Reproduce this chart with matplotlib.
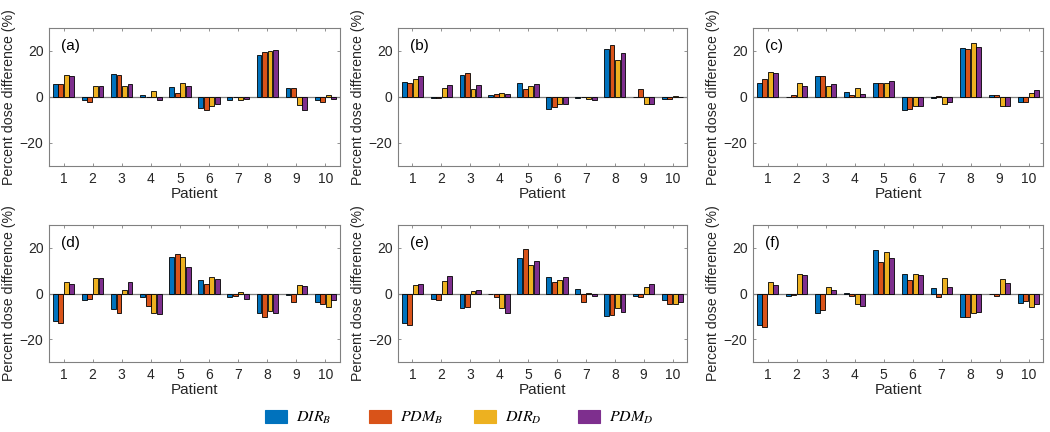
import matplotlib
matplotlib.use("Agg")
import matplotlib.pyplot as plt
import numpy as np
from matplotlib.patches import Rectangle

patients = [1, 2, 3, 4, 5, 6, 7, 8, 9, 10]
series_names = ["$DIR_B$", "$PDM_B$", "$DIR_D$", "$PDM_D$"]
colors = ["#0072BD", "#D95319", "#EDB120", "#7E2F8E"]
panel_labels = ["(a)", "(b)", "(c)", "(d)", "(e)", "(f)"]

# rows: DIR_B, PDM_B, DIR_D, PDM_D
panel_a = [
    [5.6, -1.2, 10.1, 0.9, 4.3, -4.8, -1.2, 18.3, 3.8, -1.4],
    [5.6, -2.0, 9.4, 0.1, 1.6, -5.5, -0.2, 19.4, 3.8, -2.0],
    [9.5, 4.9, 4.6, 2.8, 6.1, -3.8, -1.2, 20.0, -3.5, 0.9],
    [9.3, 4.6, 5.5, -1.4, 4.6, -3.0, -0.9, 20.6, -5.8, -0.9],
]
panel_b = [
    [6.4, -0.4, 9.7, 1.0, 6.2, -5.4, -0.3, 21.0, 0.2, -0.9],
    [5.9, -0.4, 10.3, 1.4, 3.3, -4.2, 0.0, 22.5, 3.3, -0.9],
    [7.7, 3.9, 3.6, 1.9, 4.8, -2.9, -1.0, 16.1, -2.9, 0.4],
    [9.1, 5.4, 5.4, 1.4, 5.5, -3.2, -1.2, 19.0, -3.2, 0.0],
]
panel_c = [
    [6.3, 0.0, 9.3, 2.2, 6.2, -5.6, -0.6, 21.5, 0.7, -2.1],
    [7.8, 1.0, 9.3, 1.0, 5.9, -5.3, 0.3, 20.9, 0.7, -2.1],
    [11.0, 5.9, 5.0, 4.1, 6.2, -3.8, -2.9, 23.5, -4.1, 1.6],
    [10.4, 5.0, 5.6, 1.3, 6.8, -4.1, -2.1, 21.8, -4.1, 3.1],
]
panel_d = [
    [-12.0, -3.0, -7.0, -1.7, 16.2, 6.1, -1.7, -8.7, -0.7, -3.6],
    [-13.0, -2.6, -8.4, -5.5, 17.4, 4.1, -1.3, -10.4, -3.9, -4.5],
    [5.2, 6.8, 1.7, -8.4, 15.8, 7.2, 0.6, -7.7, 3.6, -5.8],
    [4.1, 6.8, 4.9, -8.8, 11.7, 6.2, -2.6, -8.4, 3.2, -3.0],
]
panel_e = [
    [-12.9, -2.2, -6.5, -0.1, 15.5, 7.2, 1.9, -9.9, -1.2, -2.9],
    [-13.9, -2.9, -5.8, -1.7, 19.7, 5.2, -3.6, -9.4, -1.6, -4.8],
    [3.9, 5.5, 1.0, -6.5, 12.6, 5.8, 0.1, -6.2, 3.0, -4.5],
    [4.3, 7.7, 1.4, -8.7, 14.2, 7.1, -1.2, -8.1, 4.2, -3.8],
]
panel_f = [
    [-13.6, -1.3, -8.6, 0.4, 19.1, 8.6, 2.3, -10.2, 0.0, -4.2],
    [-14.5, -0.7, -7.2, -1.3, 13.9, 5.8, -1.5, -10.2, -1.3, -3.5],
    [5.0, 8.5, 2.9, -4.7, 18.1, 8.5, 6.7, -8.6, 6.4, -5.8],
    [3.9, 7.9, 1.5, -5.4, 15.6, 7.9, 2.9, -8.0, 4.4, -4.4],
]
panels = [panel_a, panel_b, panel_c, panel_d, panel_e, panel_f]
yticks = [-20, 0, 20]

plt.rcParams["font.family"] = ["Liberation Sans", "DejaVu Sans"]
plt.rcParams["mathtext.fontset"] = "stix"

fig = plt.figure(figsize=(10.5, 4.32), dpi=100)
W, H = 1050.0, 432.0
lefts = [49, 398, 753]
widths = [291, 289, 290]
tops = [28, 225]
bottoms = [166, 362]

axis_col = "#808080"
txt_col = "#262626"
x = np.arange(len(patients))
bw = 0.19
offsets = [-1.5 * bw, -0.5 * bw, 0.5 * bw, 1.5 * bw]

for i, data in enumerate(panels):
    r, c = divmod(i, 3)
    ax = fig.add_axes([lefts[c] / W, 1 - bottoms[r] / H, widths[c] / W, (bottoms[r] - tops[r]) / H])
    for k in range(4):
        ax.bar(x + 1 + offsets[k], data[k], width=bw * 0.88, color=colors[k],
               edgecolor="black", linewidth=0.6, zorder=3)
    ax.axhline(0, color=axis_col, linewidth=0.9, zorder=2)
    ax.set_xlim(0.5, 10.5)
    ax.set_ylim(-30, 30)
    ax.set_xticks(patients)
    ax.set_yticks(yticks)
    ax.tick_params(direction="in", top=True, right=True, length=2.5, width=0.6,
                   color=axis_col, labelsize=10, labelcolor=txt_col, pad=4)
    for s in ax.spines.values():
        s.set_color(axis_col)
        s.set_linewidth(0.8)
    ax.set_xlabel("Patient", fontsize=11, color=txt_col, labelpad=1)
    ax.set_ylabel("Percent dose difference (%)", fontsize=10.2, color=txt_col, labelpad=3)
    ax.text(0.04, 0.84, panel_labels[i], transform=ax.transAxes, fontsize=11, color="black")

# legend drawn at fixed spacing, as in the reference
for k in range(4):
    x0 = 265 + 104.3 * k
    fig.patches.append(Rectangle((x0 / W, 1 - 423 / H), 22 / W, 13 / H,
                                 transform=fig.transFigure, facecolor=colors[k],
                                 edgecolor=colors[k], linewidth=0.8))
    fig.text((x0 + 31) / W, 1 - 418 / H, series_names[k], fontsize=11.5,
             va="center", ha="left", color="black")

fig.savefig("out.png", dpi=100)
